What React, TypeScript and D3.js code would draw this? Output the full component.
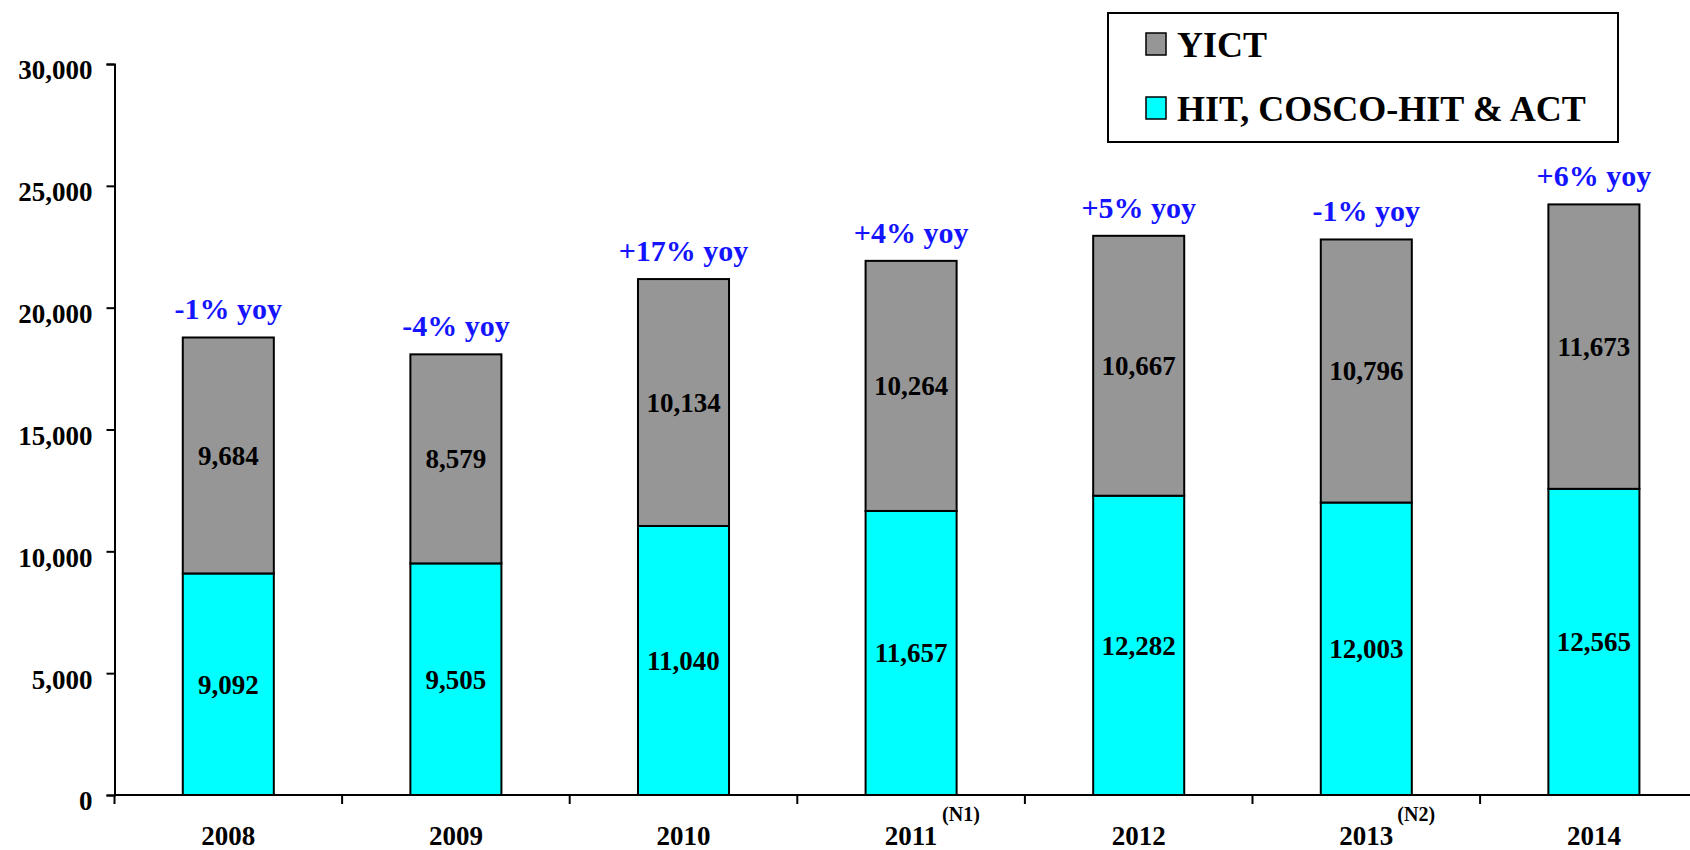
import { useEffect, useRef } from 'react';
import * as d3 from 'd3';

const years = ['2008', '2009', '2010', '2011', '2012', '2013', '2014'];
const hitValues = [9092, 9505, 11040, 11657, 12282, 12003, 12565];
const yictValues = [9684, 8579, 10134, 10264, 10667, 10796, 11673];
const yoyLabels = ['-1% yoy', '-4% yoy', '+17% yoy', '+4% yoy', '+5% yoy', '-1% yoy', '+6% yoy'];
const yearNotes = ['', '', '', '(N1)', '', '(N2)', ''];
const yTicks = [0, 5000, 10000, 15000, 20000, 25000, 30000];
const seriesNames = ['YICT', 'HIT, COSCO-HIT & ACT'];
const seriesColors = ['#969696', '#00FFFF'];

const App: React.FC = () => {
  const svgRef = useRef<SVGSVGElement>(null);

  const width = 1690;
  const height = 850;
  const font = '"Liberation Serif", "Times New Roman", serif';

  useEffect(() => {
    if (!svgRef.current) return;

    d3.select(svgRef.current).selectAll("*").remove();

    const canvas = d3.select(svgRef.current)
      .attr("width", width)
      .attr("height", height);

    canvas.append("rect")
      .attr("width", width)
      .attr("height", height)
      .attr("fill", "white");

    const axisX = 114.5;
    const step = 227.6;

    const x = d3.scaleBand()
      .domain(years)
      .range([axisX, axisX + step * years.length])
      .paddingInner(0.6)
      .paddingOuter(0.3);

    const y = d3.scaleLinear()
      .domain([0, 30000])
      .range([795, 64]);

    const rows = years.map((year, i) => ({
      year,
      hit: hitValues[i],
      yict: yictValues[i],
      total: hitValues[i] + yictValues[i],
      yoy: yoyLabels[i],
      note: yearNotes[i],
    }));

    // HIT, COSCO-HIT & ACT (bottom)
    canvas.selectAll(".hitBar")
      .data(rows)
      .enter().append("rect")
      .attr("class", "hitBar")
      .attr("x", d => x(d.year) || 0)
      .attr("y", d => y(d.hit))
      .attr("width", x.bandwidth())
      .attr("height", d => y(0) - y(d.hit))
      .attr("fill", seriesColors[1])
      .attr("stroke", "black")
      .attr("stroke-width", 2);

    // YICT (top)
    canvas.selectAll(".yictBar")
      .data(rows)
      .enter().append("rect")
      .attr("class", "yictBar")
      .attr("x", d => x(d.year) || 0)
      .attr("y", d => y(d.total))
      .attr("width", x.bandwidth())
      .attr("height", d => y(d.hit) - y(d.total))
      .attr("fill", seriesColors[0])
      .attr("stroke", "black")
      .attr("stroke-width", 2);

    const cx = (d: { year: string }) => (x(d.year) || 0) + x.bandwidth() / 2;

    // value labels
    canvas.selectAll(".hitLabel")
      .data(rows)
      .enter().append("text")
      .attr("x", cx)
      .attr("y", d => y(d.hit / 2))
      .attr("dy", "0.35em")
      .attr("text-anchor", "middle")
      .attr("font-family", font)
      .attr("font-size", 27)
      .attr("font-weight", "bold")
      .text(d => d3.format(",")(d.hit));

    canvas.selectAll(".yictLabel")
      .data(rows)
      .enter().append("text")
      .attr("x", cx)
      .attr("y", d => y(d.hit + d.yict / 2))
      .attr("dy", "0.35em")
      .attr("text-anchor", "middle")
      .attr("font-family", font)
      .attr("font-size", 27)
      .attr("font-weight", "bold")
      .text(d => d3.format(",")(d.yict));

    // yoy labels
    canvas.selectAll(".yoyLabel")
      .data(rows)
      .enter().append("text")
      .attr("x", cx)
      .attr("y", d => y(d.total) - 18)
      .attr("text-anchor", "middle")
      .attr("font-family", font)
      .attr("font-size", 30)
      .attr("font-weight", "bold")
      .attr("fill", "#1414FF")
      .text(d => d.yoy);

    // Y axis
    const yAxis = canvas.append("g")
      .attr("class", "yAxis")
      .attr("transform", `translate(${axisX}, 0)`)
      .call(d3.axisLeft(y).tickValues(yTicks).tickFormat(d3.format(",")).tickSize(8).tickPadding(14));

    yAxis.selectAll("text")
      .attr("dy", "0.55em")
      .attr("font-family", font)
      .attr("font-size", 27)
      .attr("font-weight", "bold")
      .attr("fill", "black");

    yAxis.selectAll("path, line").attr("stroke", "black").attr("stroke-width", 2);

    // X axis
    const boundaries = d3.range(years.length + 1).map(i => axisX + i * step);
    canvas.append("line")
      .attr("x1", axisX)
      .attr("x2", axisX + step * years.length)
      .attr("y1", y(0))
      .attr("y2", y(0))
      .attr("stroke", "black")
      .attr("stroke-width", 2);

    canvas.selectAll(".xTick")
      .data(boundaries)
      .enter().append("line")
      .attr("x1", d => d)
      .attr("x2", d => d)
      .attr("y1", y(0))
      .attr("y2", y(0) + 9)
      .attr("stroke", "black")
      .attr("stroke-width", 2);

    canvas.selectAll(".xLabel")
      .data(rows)
      .enter().append("text")
      .attr("x", cx)
      .attr("y", 845)
      .attr("text-anchor", "middle")
      .attr("font-family", font)
      .attr("font-size", 27)
      .attr("font-weight", "bold")
      .text(d => d.year);

    canvas.selectAll(".xNote")
      .data(rows.filter(d => d.note))
      .enter().append("text")
      .attr("x", d => cx(d) + 31)
      .attr("y", 821)
      .attr("font-family", font)
      .attr("font-size", 20)
      .attr("font-weight", "bold")
      .text(d => d.note);

    // Legend
    const legend = canvas.append("g").attr("class", "legend");
    legend.append("rect")
      .attr("x", 1108)
      .attr("y", 13)
      .attr("width", 510)
      .attr("height", 129)
      .attr("fill", "white")
      .attr("stroke", "black")
      .attr("stroke-width", 2);

    const legendY = d3.scalePoint().domain(seriesNames).range([44, 108]);

    seriesNames.forEach((name, i) => {
      const ly = legendY(name) || 0;
      legend.append("rect")
        .attr("x", 1146)
        .attr("y", ly - 11)
        .attr("width", 20)
        .attr("height", 22)
        .attr("fill", seriesColors[i])
        .attr("stroke", "black")
        .attr("stroke-width", 1.5);
      legend.append("text")
        .attr("x", 1177)
        .attr("y", ly + 13)
        .attr("font-family", font)
        .attr("font-size", 36)
        .attr("font-weight", "bold")
        .text(name);
    });
  }, []);

  return (
    <svg ref={svgRef} style={{ position: 'absolute', left: 0, top: 0, display: 'block' }}></svg>
  );
};

export default App;
